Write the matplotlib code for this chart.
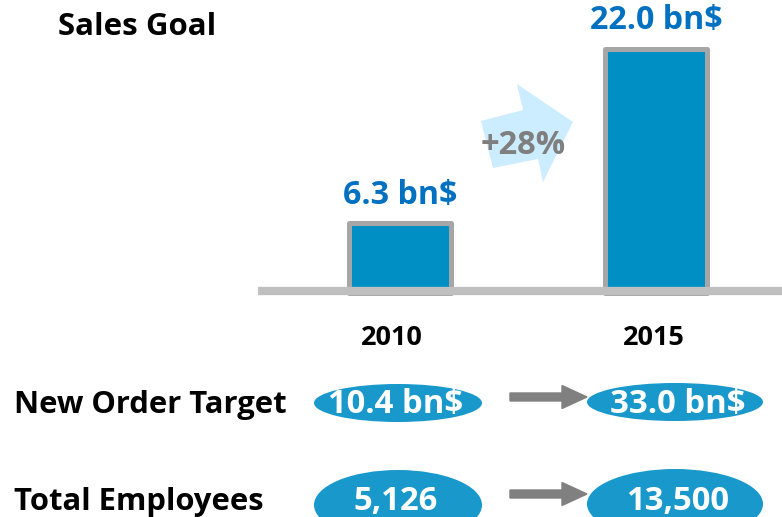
import matplotlib
matplotlib.use("Agg")
import matplotlib.pyplot as plt
from matplotlib.patches import Ellipse, Polygon, FancyArrow

# ---- data ----
years = ["2010", "2015"]
sales_goal = [6.3, 22.0]
sales_labels = ["6.3 bn$", "22.0 bn$"]
order_labels = ["10.4 bn$", "33.0 bn$"]
employee_labels = ["5,126", "13,500"]
growth_label = "+28%"
title = "Sales Goal"
row_titles = ["New Order Target", "Total Employees"]

W, H = 782, 517
FONT = "Open Sans"
BAR_BLUE = "#008FC5"
EDGE_GRAY = "#A6A6A6"
LABEL_BLUE = "#0070C0"
ELL_BLUE = "#1898CB"

fig = plt.figure(figsize=(W / 100, H / 100), dpi=100)

# bar axes: category index 0 -> x=400px, 1 -> 656px ; value 0 -> y=293px, 22 -> 48.5px
x0px, dxpx = 400.0, 256.0
zero_px, top_px, top_val = 293.0, 48.5, 22.0
scale = (zero_px - top_px) / top_val
axb = fig.add_axes([0, 0, 1, 1])
axb.set_xlim(-x0px / dxpx, (W - x0px) / dxpx)
axb.set_ylim(-(H - zero_px) / scale, zero_px / scale)
axb.axis("off")
xs = list(range(len(years)))
bars = axb.bar(xs, sales_goal, width=102 / dxpx, color=BAR_BLUE,
               edgecolor=EDGE_GRAY, linewidth=3.6, zorder=2)
for b in bars:
    b.set_joinstyle("round")
for x, v, lab in zip(xs, sales_goal, sales_labels):
    axb.annotate(lab, (x, v), xytext=(0, 14), textcoords="offset points",
                 ha="center", va="baseline", fontsize=23.2, fontweight="bold",
                 color=LABEL_BLUE, family=FONT, zorder=3)

# overlay axes in pixel coordinates for decorations
ax = fig.add_axes([0, 0, 1, 1], facecolor="none")
ax.set_xlim(0, W)
ax.set_ylim(H, 0)
ax.axis("off")

# baseline
ax.plot([258, W], [291, 291], color="#BFBFBF", linewidth=6, solid_capstyle="butt", zorder=3)

# title
ax.text(58, 35, title, fontsize=22.5, fontweight="bold", family=FONT, color="black",
        ha="left", va="baseline")

# growth arrow
arrow_pts = [(493, 168), (481, 121), (523, 110), (517, 84), (573, 122), (543, 182), (538, 159)]
ax.add_patch(Polygon(arrow_pts, closed=True, facecolor="#CCECFF", edgecolor="none", zorder=1))
ax.text(523, 154, growth_label, fontsize=23.5, fontweight="bold", family=FONT, color="#7F7F7F",
        ha="center", va="baseline", zorder=4)

# year labels
for cx, yr in zip([392, 654], years):
    ax.text(cx, 345, yr, fontsize=19.5, fontweight="bold", family=FONT, color="black",
            ha="center", va="baseline")

# rows
rows = [(order_labels, 413, 403, 38), (employee_labels, 510, 505, 70)]
for (labels, base, ecy, eh), rt in zip(rows, row_titles):
    ax.text(14, base, rt, fontsize=22.3, fontweight="bold", family=FONT, color="black",
            ha="left", va="baseline")
    for ecx, ew, tcx, lab in zip([398, 675], [168, 176], [396, 678], labels):
        ax.add_patch(Ellipse((ecx, ecy if ecx < 500 else ecy - 1), ew, eh,
                             facecolor=ELL_BLUE, edgecolor="none", zorder=2))
        ax.text(tcx, base, lab, fontsize=23.7, fontweight="bold", family=FONT, color="white",
                ha="center", va="baseline", zorder=3)
    ay = base - 16
    ax.add_patch(FancyArrow(510, ay, 77, 0, width=8, head_width=23, head_length=25,
                            length_includes_head=True, color="#808080", zorder=2))

fig.savefig("out.png", dpi=100)
